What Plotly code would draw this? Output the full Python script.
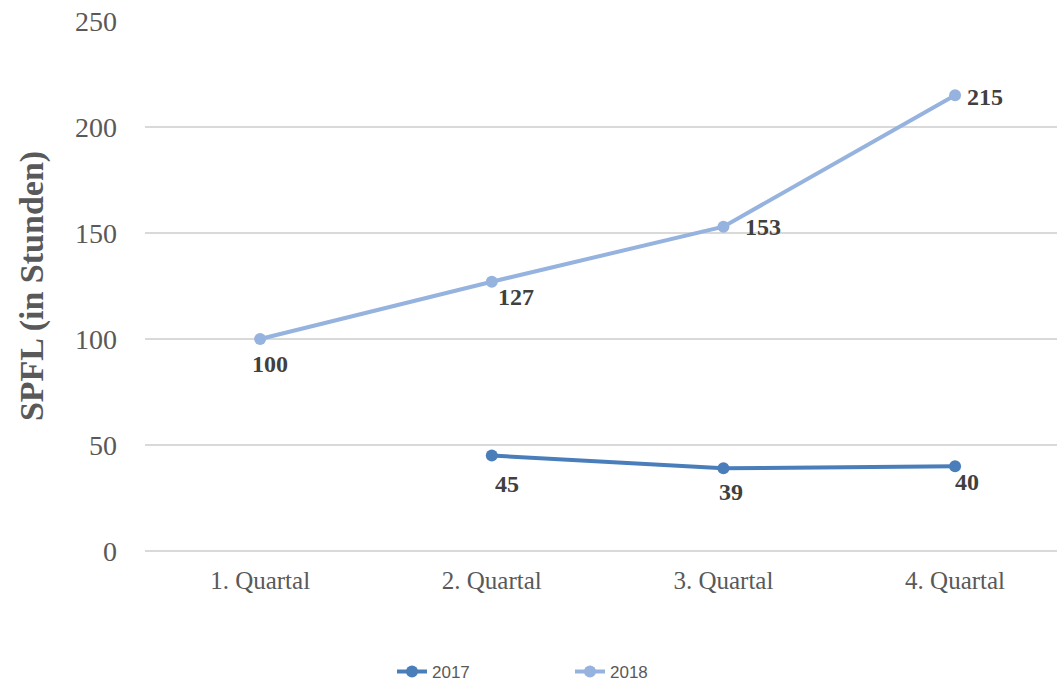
import plotly.graph_objects as go

categories = ["1. Quartal", "2. Quartal", "3. Quartal", "4. Quartal"]
values_2017 = [None, 45, 39, 40]
values_2018 = [100, 127, 153, 215]
labels_2017 = ["", "45", "39", "40"]
labels_2018 = ["100", "127", "153", "215"]
y_ticks = [0, 50, 100, 150, 200, 250]

# label offsets in px (xshift, yshift) relative to each point
off_2017 = [(0, 0), (15, -28), (8, -24), (12, -16)]
off_2018 = [(10, -25), (24, -15), (40, 0), (30, -2)]

c2017 = "#4A7EBB"
c2018 = "#95B3DE"
serif = "Liberation Serif"

fig = go.Figure()
fig.add_trace(go.Scatter(
    x=categories, y=values_2017, name="2017", mode="lines+markers",
    line=dict(color=c2017, width=4), marker=dict(size=12, color=c2017),
    connectgaps=False,
))
fig.add_trace(go.Scatter(
    x=categories, y=values_2018, name="2018", mode="lines+markers",
    line=dict(color=c2018, width=4), marker=dict(size=12, color=c2018),
))

for vals, labs, offs in [(values_2017, labels_2017, off_2017), (values_2018, labels_2018, off_2018)]:
    for cat, v, lab, (dx, dy) in zip(categories, vals, labs, offs):
        if v is None or not lab:
            continue
        fig.add_annotation(x=cat, y=v, text=lab, showarrow=False,
                           xshift=dx, yshift=dy,
                           font=dict(family=serif, size=24, color="#404040", weight="bold"))

fig.update_layout(
    width=1057, height=682,
    margin=dict(l=145, r=0, t=21, b=131, autoexpand=False),
    paper_bgcolor="white", plot_bgcolor="white",
    showlegend=True,
    legend=dict(orientation="h", x=0.466, xanchor="center", yref="paper",
                y=-0.228, yanchor="middle",
                font=dict(family="Liberation Sans", size=17, color="#595959"),
                entrywidth=133, traceorder="normal"),
    xaxis=dict(range=[-0.497, 3.44], showgrid=False, showline=False, zeroline=False,
               tickfont=dict(family=serif, size=25, color="#595959"), ticks="",
               ticklabelstandoff=12),
    yaxis=dict(range=[0, 250], tickvals=y_ticks, showgrid=True, gridcolor="#D9D9D9",
               gridwidth=1.5, zeroline=True, zerolinecolor="#D9D9D9", zerolinewidth=1.5,
               showline=False,
               tickfont=dict(family=serif, size=28, color="#595959"), ticks="",
               ticklabelstandoff=27,
               title=dict(text="SPFL (in Stunden)", standoff=21,
                          font=dict(family=serif, size=34, color="#595959", weight="bold"))),
)
fig.write_html("out.html")
